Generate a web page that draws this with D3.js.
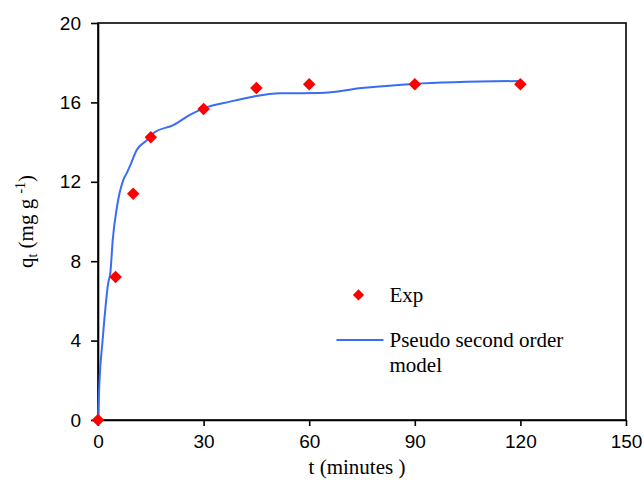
<!DOCTYPE html>
<html>
<head>
<meta charset="utf-8">
<script src="https://cdn.jsdelivr.net/npm/d3@7"></script>
<style>
  body { margin: 0; background: #fff; }
  .axis text { font-family: 'Liberation Sans', Arial, sans-serif; font-size: 19px; fill: #000; }
  .axis path, .axis line { stroke: #000; stroke-width: 1.6; }
  .lbl { font-family: 'Liberation Serif', 'Times New Roman', serif; font-size: 21px; fill: #000; }
</style>
</head>
<body>
<svg id="chart"></svg>
<script>
// experimental points
const expT = [0, 5, 10, 15, 30, 45, 60, 90, 120];
const expQ = [0, 7.2, 11.4, 14.25, 15.67, 16.72, 16.92, 16.92, 16.92];

// pseudo second order model curve
const modelT = [0, 0.4, 1.3, 2.9, 3.5, 4.2, 5.4, 7.2, 8.2, 9.1, 11, 13.9, 15.7, 21.4, 26.1, 30, 37.5, 44, 51.7, 63, 75, 89.5, 120];
const modelQ = [0, 1.9, 4.0, 6.9, 7.4, 9.1, 10.75, 12.1, 12.45, 12.8, 13.6, 14.1, 14.45, 14.86, 15.37, 15.7, 16.04, 16.29, 16.46, 16.47, 16.72, 16.93, 17.08];

const xTicks = [0, 30, 60, 90, 120, 150];
const yTicks = [0, 4, 8, 12, 16, 20];

const W = 644, H = 484;
const margin = { top: 23, right: 18, bottom: 64, left: 98 };
const width = W - margin.left - margin.right;
const height = H - margin.top - margin.bottom;

const svg = d3.select('#chart')
  .attr('width', W)
  .attr('height', H);

const g = svg.append('g')
  .attr('transform', `translate(${margin.left},${margin.top})`);

const xScale = d3.scaleLinear().domain([0, 150]).range([0, width]);
const yScale = d3.scaleLinear().domain([0, 20]).range([height, 0]);

// frame
g.append('rect')
  .attr('width', width)
  .attr('height', height)
  .attr('fill', 'none')
  .attr('stroke', '#000')
  .attr('stroke-width', 1.6);

g.append('g')
  .attr('class', 'axis')
  .attr('transform', `translate(0,${height})`)
  .call(d3.axisBottom(xScale).tickValues(xTicks).tickSize(6).tickSizeOuter(0).tickPadding(5))
  .selectAll('text')
  .attr('dy', '0.9em');

g.append('g')
  .attr('class', 'axis')
  .call(d3.axisLeft(yScale).tickValues(yTicks).tickSize(7).tickSizeOuter(0).tickPadding(10));

// model curve
const model = modelT.map((t, i) => ({ t, q: modelQ[i] }));
g.append('path')
  .datum(model)
  .attr('fill', 'none')
  .attr('stroke', '#3a6cf4')
  .attr('stroke-width', 2)
  .attr('d', d3.line().curve(d3.curveMonotoneX).x(d => xScale(d.t)).y(d => yScale(d.q)));

// experimental diamonds
const diamond = d3.symbol().type(d3.symbolDiamond2).size(100);
g.selectAll('.pt')
  .data(expT.map((t, i) => ({ t, q: expQ[i] })))
  .enter().append('path')
  .attr('class', 'pt')
  .attr('transform', d => `translate(${xScale(d.t)},${yScale(d.q)})`)
  .attr('d', diamond)
  .attr('fill', '#ff0000');

// legend
const legend = g.append('g').attr('transform', `translate(${xScale(74)},${yScale(6.3)})`);
legend.append('path')
  .attr('d', d3.symbol().type(d3.symbolDiamond2).size(80))
  .attr('fill', '#ff0000');
legend.append('text')
  .attr('class', 'lbl')
  .attr('x', 31)
  .attr('y', 7)
  .text('Exp');
legend.append('line')
  .attr('x1', -22).attr('x2', 25)
  .attr('y1', 45).attr('y2', 45)
  .attr('stroke', '#3a6cf4')
  .attr('stroke-width', 2);
legend.append('text')
  .attr('class', 'lbl')
  .attr('x', 31)
  .attr('y', 52)
  .text('Pseudo second order');
legend.append('text')
  .attr('class', 'lbl')
  .attr('x', 31)
  .attr('y', 77)
  .text('model');

// axis titles
svg.append('text')
  .attr('class', 'lbl')
  .attr('x', margin.left + xScale(75) - 5)
  .attr('y', 474)
  .attr('text-anchor', 'middle')
  .text('t (minutes )');

const yl = svg.append('text')
  .attr('class', 'lbl')
  .attr('transform', `translate(33,${margin.top + yScale(10)}) rotate(-90)`)
  .attr('text-anchor', 'middle');
yl.append('tspan').text('q');
yl.append('tspan').attr('font-size', 14).attr('dy', 4).text('t');
yl.append('tspan').attr('dy', -4).text(' (mg g ');
yl.append('tspan').attr('font-size', 14).attr('dy', -8).text('-1');
yl.append('tspan').attr('dy', 8).text(')');
</script>
</body>
</html>
